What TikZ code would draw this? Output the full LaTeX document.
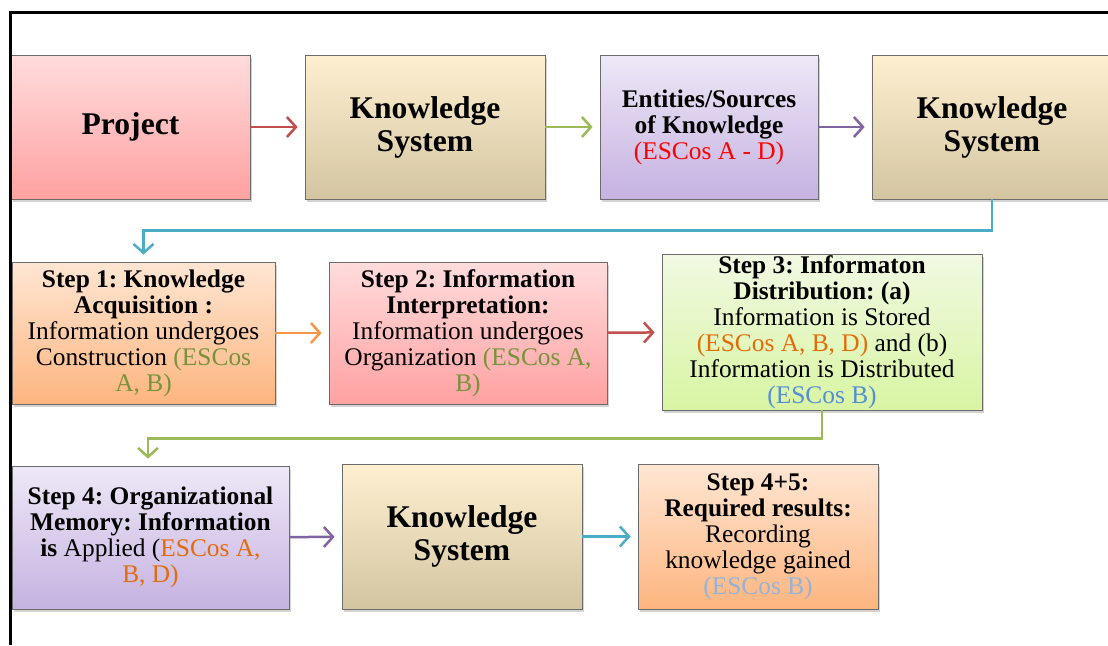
\documentclass[tikz,border=0pt]{standalone}
\usepackage{fontspec}
\setmainfont{Liberation Serif}
\usetikzlibrary{arrows.meta,shadows}
\frenchspacing

\definecolor{pinkT}{HTML}{FFDCDD}
\definecolor{pinkB}{HTML}{FFA1A1}
\definecolor{creamT}{HTML}{FEEFD1}
\definecolor{creamM}{HTML}{F1EAD8}
\definecolor{creamB}{HTML}{D4C5A1}
\definecolor{lilaT}{HTML}{EEE8F7}
\definecolor{lilaB}{HTML}{C5B2E1}
\definecolor{orT}{HTML}{FFE6D3}
\definecolor{orB}{HTML}{FDB57F}
\definecolor{grT}{HTML}{F1F9E3}
\definecolor{grB}{HTML}{D8F5A2}
\definecolor{lnred}{HTML}{C0504D}
\definecolor{lngreen}{HTML}{9BBB59}
\definecolor{lnpurple}{HTML}{8064A2}
\definecolor{lnblue}{HTML}{4BACC6}
\definecolor{lnorange}{HTML}{F79646}
\definecolor{txolive}{HTML}{77933C}
\definecolor{txorange}{HTML}{E36C09}
\definecolor{txblue}{HTML}{558ED5}
\definecolor{txlblue}{HTML}{95B3D7}

\begin{document}
\begin{tikzpicture}[x=1pt,y=1pt,
    box/.style={draw=gray!85!black,line width=0.8pt,inner sep=0pt,align=center,
      drop shadow={shadow xshift=2pt,shadow yshift=-3pt,opacity=0.35}},
    big/.style={box,font=\fontsize{31.6}{33}\selectfont\bfseries},
    small/.style={box,font=\fontsize{25.4}{26}\selectfont},
    pinkfill/.style={top color=pinkT,bottom color=pinkB},
    creamfill/.style={top color=creamT,middle color=creamM,bottom color=creamB},
    lilafill/.style={top color=lilaT,bottom color=lilaB},
    orfill/.style={top color=orT,bottom color=orB},
    grfill/.style={top color=grT,bottom color=grB},
    link/.style={line width=2.5pt,-{Straight Barb[length=9pt,width=20pt]},shorten >=7pt}]
  \useasboundingbox (0,0) rectangle (1108,-645);

  % first row
  \node[big,pinkfill,minimum width=239,minimum height=144] (P) at (130.5,-127) {Project};
  \node[big,creamfill,minimum width=240,minimum height=144] (K1) at (425,-127) {Knowledge\\System};
  \node[small,lilafill,minimum width=218,minimum height=144] (E) at (709,-127)
    {\textbf{Entities/Sources}\\\textbf{of Knowledge}\\\textcolor{red}{(ESCos A - D)}};
  \node[big,creamfill,minimum width=240,minimum height=144] (K2) at (992,-127) {Knowledge\\System};

  % second row
  \node[small,orfill,minimum width=263,minimum height=142] (S1) at (143.5,-333)
    {\textbf{Step 1: Knowledge}\\\textbf{Acquisition :}\\Information undergoes\\
     Construction \textcolor{txolive}{(ESCos}\\\textcolor{txolive}{A, B)}};
  \node[small,pinkfill,minimum width=278,minimum height=142] (S2) at (468,-333)
    {\textbf{Step 2: Information}\\\textbf{Interpretation:}\\Information undergoes\\
     Organization \textcolor{txolive}{(ESCos A,}\\\textcolor{txolive}{B)}};
  \node[small,grfill,minimum width=320,minimum height=156] (S3) at (822,-332)
    {\textbf{Step 3: Informaton}\\\textbf{Distribution: (a)}\\Information is Stored\\
     \textcolor{txorange}{(ESCos A, B, D)} and (b)\\Information is Distributed\\
     \textcolor{txblue}{(ESCos B)}};

  % third row
  \node[small,lilafill,minimum width=277,minimum height=143] (S4) at (150.5,-537.5)
    {\textbf{Step 4: Organizational}\\\textbf{Memory: Information}\\
     \textbf{is} Applied (\textcolor{txorange}{ESCos A,}\\\textcolor{txorange}{B, D)}};
  \node[big,creamfill,minimum width=240,minimum height=145] (K3) at (462,-536.5) {Knowledge\\System};
  \node[small,orfill,minimum width=240,minimum height=145] (S5) at (758,-536.5)
    {\textbf{Step 4+5:}\\\textbf{Required results:}\\Recording\\knowledge gained\\
     \textcolor{txlblue}{(ESCos B)}};

  \draw[link,lnred] (P) -- (K1);
  \draw[link,lngreen] (K1) -- (E);
  \draw[link,lnpurple] (E) -- (K2);
  \draw[link,lnblue] (K2.south) -- ++(0,-31) -| (S1.north);
  \draw[link,lnorange] (S1) -- (S2);
  \draw[link,lnred] (S2) -- (S3);
  \draw[link,lngreen] (S3.south) -- ++(0,-28) -| ([xshift=-2.5pt]S4.north);
  \draw[link,lnpurple] (S4) -- (K3);
  \draw[link,lnblue] (K3) -- (S5);

  % frame
  \draw[line width=3pt] (10,-645) -- (10,-12) -- (1112,-12);
\end{tikzpicture}
\end{document}
